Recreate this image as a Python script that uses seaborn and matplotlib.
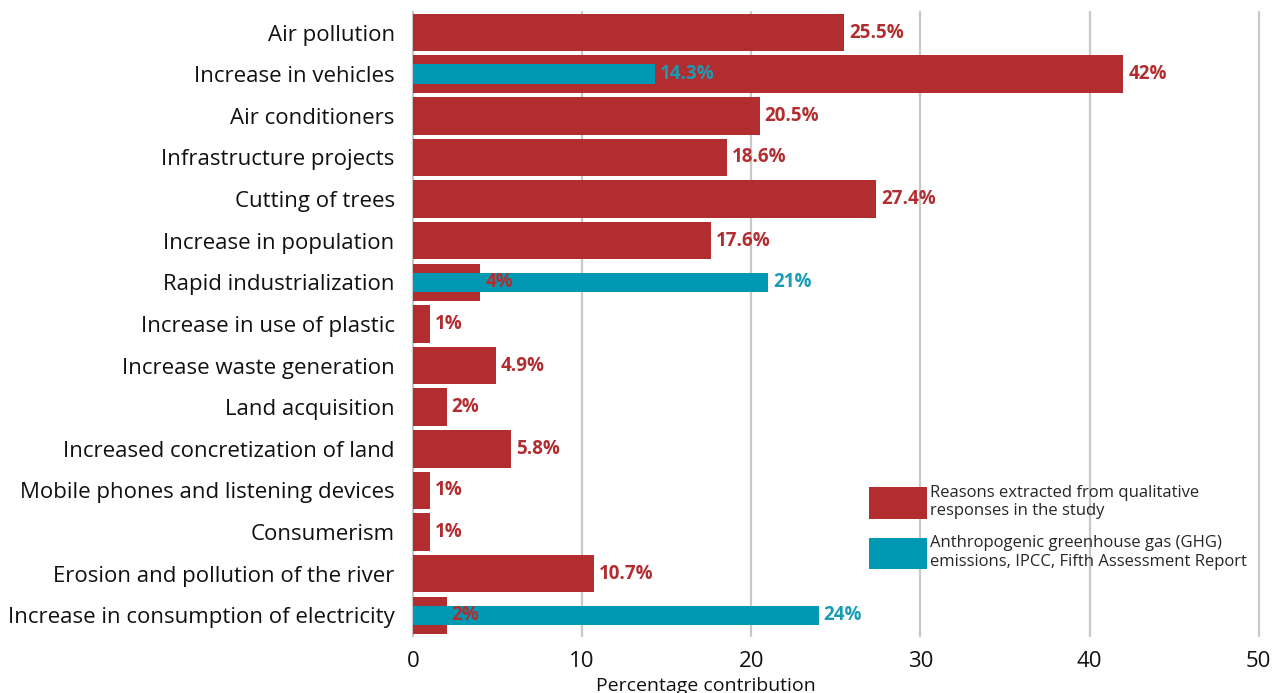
import matplotlib
matplotlib.use("Agg")
import matplotlib.pyplot as plt
import seaborn as sns
import pandas as pd

categories = [
    "Air pollution",
    "Increase in vehicles",
    "Air conditioners",
    "Infrastructure projects",
    "Cutting of trees",
    "Increase in population",
    "Rapid industrialization",
    "Increase in use of plastic",
    "Increase waste generation",
    "Land acquisition",
    "Increased concretization of land",
    "Mobile phones and listening devices",
    "Consumerism",
    "Erosion and pollution of the river",
    "Increase in consumption of electricity",
]
study_values = [25.5, 42, 20.5, 18.6, 27.4, 17.6, 4, 1, 4.9, 2, 5.8, 1, 1, 10.7, 2]
ghg_categories = ["Increase in vehicles", "Rapid industrialization",
                  "Increase in consumption of electricity"]
ghg_values = [14.3, 21, 24]
x_ticks = [0, 10, 20, 30, 40, 50]

RED = "#B22D30"
TEAL = "#0098B3"
TEAL_TXT = "#1A9BB5"

sns.set_theme(style="white")
plt.rcParams["font.family"] = ["Open Sans", "DejaVu Sans"]

study_df = pd.DataFrame({"category": categories, "value": study_values})
ghg_df = pd.DataFrame({"category": ghg_categories, "value": ghg_values})

fig = plt.figure(figsize=(12.74, 6.93), dpi=100)
ax = fig.add_axes([0.324, 0.082, 0.664, 0.901])

sns.barplot(data=study_df, y="category", x="value", order=categories,
            color=RED, width=0.9, saturation=1, linewidth=0, ax=ax,
            label="Reasons extracted from qualitative\nresponses in the study")
sns.barplot(data=ghg_df, y="category", x="value", order=categories,
            color=TEAL, width=0.47, saturation=1, linewidth=0, ax=ax,
            label="Anthropogenic greenhouse gas (GHG)\nemissions, IPCC, Fifth Assessment Report")

pos = {c: i for i, c in enumerate(categories)}

def fmt(v):
    return f"{v:g}%"

for c, v in zip(ghg_categories, ghg_values):
    ax.annotate(fmt(v), (v, pos[c]), xytext=(3.5, 0), textcoords="offset points",
                va="center", ha="left", color=TEAL_TXT, fontsize=13.5,
                fontweight="bold", zorder=5)
for c, v in zip(categories, study_values):
    ax.annotate(fmt(v), (v, pos[c]), xytext=(3.5, 0), textcoords="offset points",
                va="center", ha="left", color=RED, fontsize=13.5,
                fontweight="bold", zorder=6)

ax.set_xlim(0, 50)
ax.set_ylim(14.5, -0.5)
ax.set_xticks(x_ticks)
ax.set_xticklabels([str(t) for t in x_ticks], fontsize=16, color="#111111")
ax.tick_params(axis="y", labelsize=16, colors="#111111", length=0, pad=13)
ax.tick_params(axis="x", length=0, pad=11)
ax.set_ylabel("")
ax.set_xlabel("Percentage contribution", fontsize=14, color="#111111", labelpad=0)
ax.xaxis.set_label_coords(0.346, -0.065)

ax.grid(axis="x", color="#c8c8c8", linewidth=1.6, zorder=0)
ax.set_axisbelow(True)
for s in ax.spines.values():
    s.set_visible(False)
for gl in ax.get_xgridlines():
    gl.set_clip_on(False)

ax.legend(loc="upper left", bbox_to_anchor=(0.531, 0.253), frameon=False,
          fontsize=12, handlelength=3.5, handleheight=2.5, handletextpad=0.2,
          labelspacing=0.95, borderaxespad=0)

fig.savefig("out.png", dpi=100)
